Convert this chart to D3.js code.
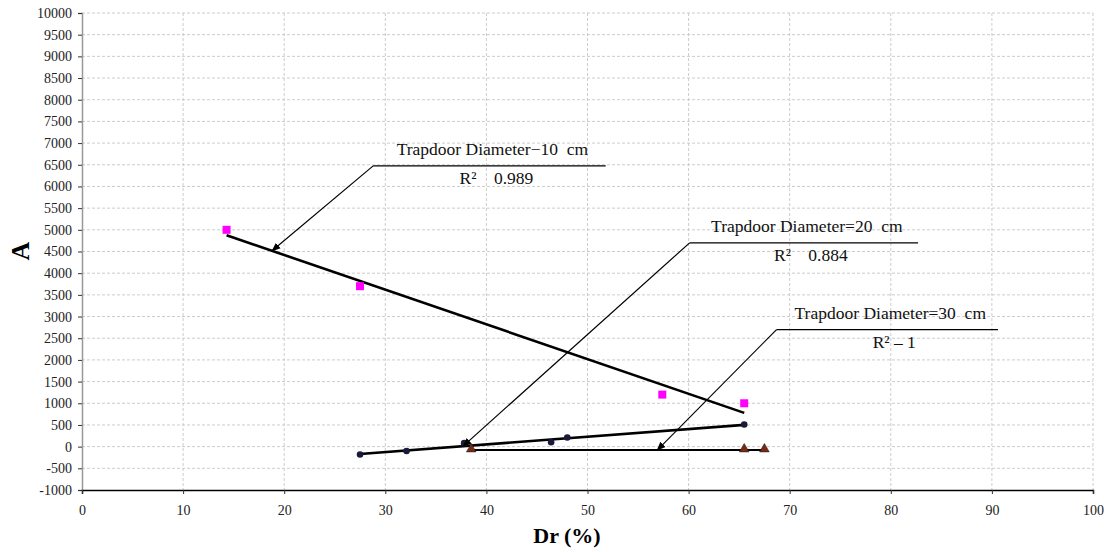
<!DOCTYPE html>
<html>
<head>
<meta charset="utf-8">
<script src="https://cdn.jsdelivr.net/npm/d3@7/dist/d3.min.js"></script>
<style>
body { margin: 0; background-color: white; }
text { font-family: "Liberation Serif", "Times New Roman", serif; }
</style>
</head>
<body>
<svg id="chart"></svg>
</body>
<script>
// data
var dr10 = [14.3, 27.5, 57.4, 65.5];
var a10  = [5000, 3700, 1200, 1000];
var dr20 = [27.5, 32.1, 37.8, 46.4, 48.0, 65.5];
var a20  = [-180, -100, 80, 100, 210, 510];
var dr30 = [38.5, 65.5, 67.5];
var a30  = [-80, -80, -80];

var seriesNames = ["Trapdoor Diameter\u221210  cm", "Trapdoor Diameter=20  cm", "Trapdoor Diameter=30  cm"];
var r2Labels = ["R\u00b2    0.989", "R\u00b2    0.884", "R\u00b2 \u2013 1"];
// callout anchors in data units: arrow tip x, elbow x, elbow y, end x
var calloutTipX  = [18.8, 37.7, 56.9];
var calloutElbX  = [28.8, 60.1, 68.7];
var calloutElbY  = [6475, 4700, 2700];
var calloutEndX  = [51.8, 82.7, 90.6];

var xTicks = d3.range(0, 101, 10);
var yTicks = d3.range(-1000, 10001, 500);

var width = 1104, height = 552;
var svg = d3.select("#chart").attr("width", width).attr("height", height);

var x = d3.scaleLinear().domain([0, 100]).range([82, 1093]);
var y = d3.scaleLinear().domain([-1000, 10000]).range([490, 13]);

// grid
svg.append("g").selectAll("line").data(yTicks.filter(function(d) { return d > -1000; }))
  .enter().append("line")
  .attr("x1", x(0)).attr("x2", x(100))
  .attr("y1", function(d) { return y(d); }).attr("y2", function(d) { return y(d); })
  .attr("stroke", "#cccccc").attr("stroke-width", 1).attr("stroke-dasharray", "3,2");
svg.append("g").selectAll("line").data(xTicks.filter(function(d) { return d > 0; }))
  .enter().append("line")
  .attr("x1", function(d) { return x(d); }).attr("x2", function(d) { return x(d); })
  .attr("y1", y(10000)).attr("y2", y(-1000))
  .attr("stroke", "#cccccc").attr("stroke-width", 1).attr("stroke-dasharray", "3,2");

// axes
var plain = function(d) { return String(d); };
var yAxis = d3.axisLeft(y).tickValues(yTicks).tickFormat(plain).tickSize(4).tickPadding(6);
var gy = svg.append("g").attr("transform", "translate(" + x(0) + ",0)").call(yAxis)
  .attr("font-family", "'Liberation Serif', serif").attr("font-size", 14);
gy.select(".domain").attr("stroke", "#999").attr("stroke-width", 1.5);
gy.selectAll(".tick line").attr("stroke", "#333");
gy.selectAll(".tick text").attr("fill", "#222");

var xAxis = d3.axisBottom(x).tickValues(xTicks).tickFormat(plain).tickSize(4).tickPadding(11);
var gx = svg.append("g").attr("transform", "translate(0," + y(-1000) + ")").call(xAxis)
  .attr("font-family", "'Liberation Serif', serif").attr("font-size", 14);
gx.select(".domain").attr("stroke", "#000").attr("stroke-width", 1.5);
gx.selectAll(".tick line").attr("stroke", "#333");
gx.selectAll(".tick text").attr("fill", "#222");

svg.append("text").attr("x", 567).attr("y", 543).attr("text-anchor", "middle")
  .attr("font-size", "22px").attr("font-weight", "bold").text("Dr (%)");
svg.append("text").attr("transform", "translate(29,251) rotate(-90)").attr("text-anchor", "middle")
  .attr("font-size", "26px").attr("font-weight", "bold").text("A");

// linear trend lines
function fit(xs, ys) {
  var mx = d3.mean(xs), my = d3.mean(ys);
  var sxy = d3.sum(xs, function(v, i) { return (v - mx) * (ys[i] - my); });
  var sxx = d3.sum(xs, function(v) { return (v - mx) * (v - mx); });
  var b = sxx === 0 ? 0 : sxy / sxx;
  return function(v) { return my + b * (v - mx); };
}
var all = [[dr10, a10], [dr20, a20], [dr30, a30]];
var fits = all.map(function(s) { return fit(s[0], s[1]); });
var trendWidth = [2.6, 2.6, 2];

all.forEach(function(s, i) {
  var x0 = d3.min(s[0]), x1 = d3.max(s[0]);
  svg.append("line")
    .attr("x1", x(x0)).attr("y1", y(fits[i](x0)))
    .attr("x2", x(x1)).attr("y2", y(fits[i](x1)))
    .attr("stroke", "#000").attr("stroke-width", trendWidth[i]);
});

// markers
svg.append("g").selectAll("rect").data(d3.zip(dr10, a10)).enter().append("rect")
  .attr("x", function(d) { return x(d[0]) - 4; }).attr("y", function(d) { return y(d[1]) - 4; })
  .attr("width", 8).attr("height", 8).attr("fill", "#ff00ff");
svg.append("g").selectAll("circle").data(d3.zip(dr20, a20)).enter().append("circle")
  .attr("cx", function(d) { return x(d[0]); }).attr("cy", function(d) { return y(d[1]); })
  .attr("r", 3.3).attr("fill", "#1a1a3a");
var tri = d3.symbol().type(d3.symbolTriangle).size(40);
svg.append("g").selectAll("path").data(d3.zip(dr30, a30)).enter().append("path")
  .attr("transform", function(d) { return "translate(" + x(d[0]) + "," + (y(d[1]) - 1) + ")"; })
  .attr("d", tri).attr("fill", "#7a2a10").attr("stroke", "#222").attr("stroke-width", 0.6);

// callouts
svg.append("defs").append("marker").attr("id", "arrow")
  .attr("viewBox", "0 0 10 10").attr("refX", 9).attr("refY", 5)
  .attr("markerWidth", 9).attr("markerHeight", 9).attr("orient", "auto-start-reverse")
  .attr("markerUnits", "userSpaceOnUse")
  .append("path").attr("d", "M0,1 L10,5 L0,9 Z").attr("fill", "#000");

seriesNames.forEach(function(name, i) {
  var tx = calloutTipX[i], ty = fits[i](tx);
  var ex = x(calloutElbX[i]), ey = y(calloutElbY[i]);
  svg.append("line")
    .attr("x1", ex).attr("y1", ey).attr("x2", x(tx)).attr("y2", y(ty))
    .attr("stroke", "#000").attr("stroke-width", 1.2).attr("marker-end", "url(#arrow)");
  svg.append("line")
    .attr("x1", ex).attr("y1", ey).attr("x2", x(calloutEndX[i])).attr("y2", ey)
    .attr("stroke", "#000").attr("stroke-width", 1.3);
  var cx = (ex + x(calloutEndX[i])) / 2 + 3;
  svg.append("text").attr("x", cx).attr("y", ey - 11).attr("text-anchor", "middle")
    .attr("font-size", "17.5px").attr("fill", "#111").style("white-space", "pre").text(name);
  svg.append("text").attr("x", cx + 4).attr("y", ey + 18).attr("text-anchor", "middle")
    .attr("font-size", "17.5px").attr("fill", "#111").style("white-space", "pre").text(r2Labels[i]);
});
</script>
</html>
